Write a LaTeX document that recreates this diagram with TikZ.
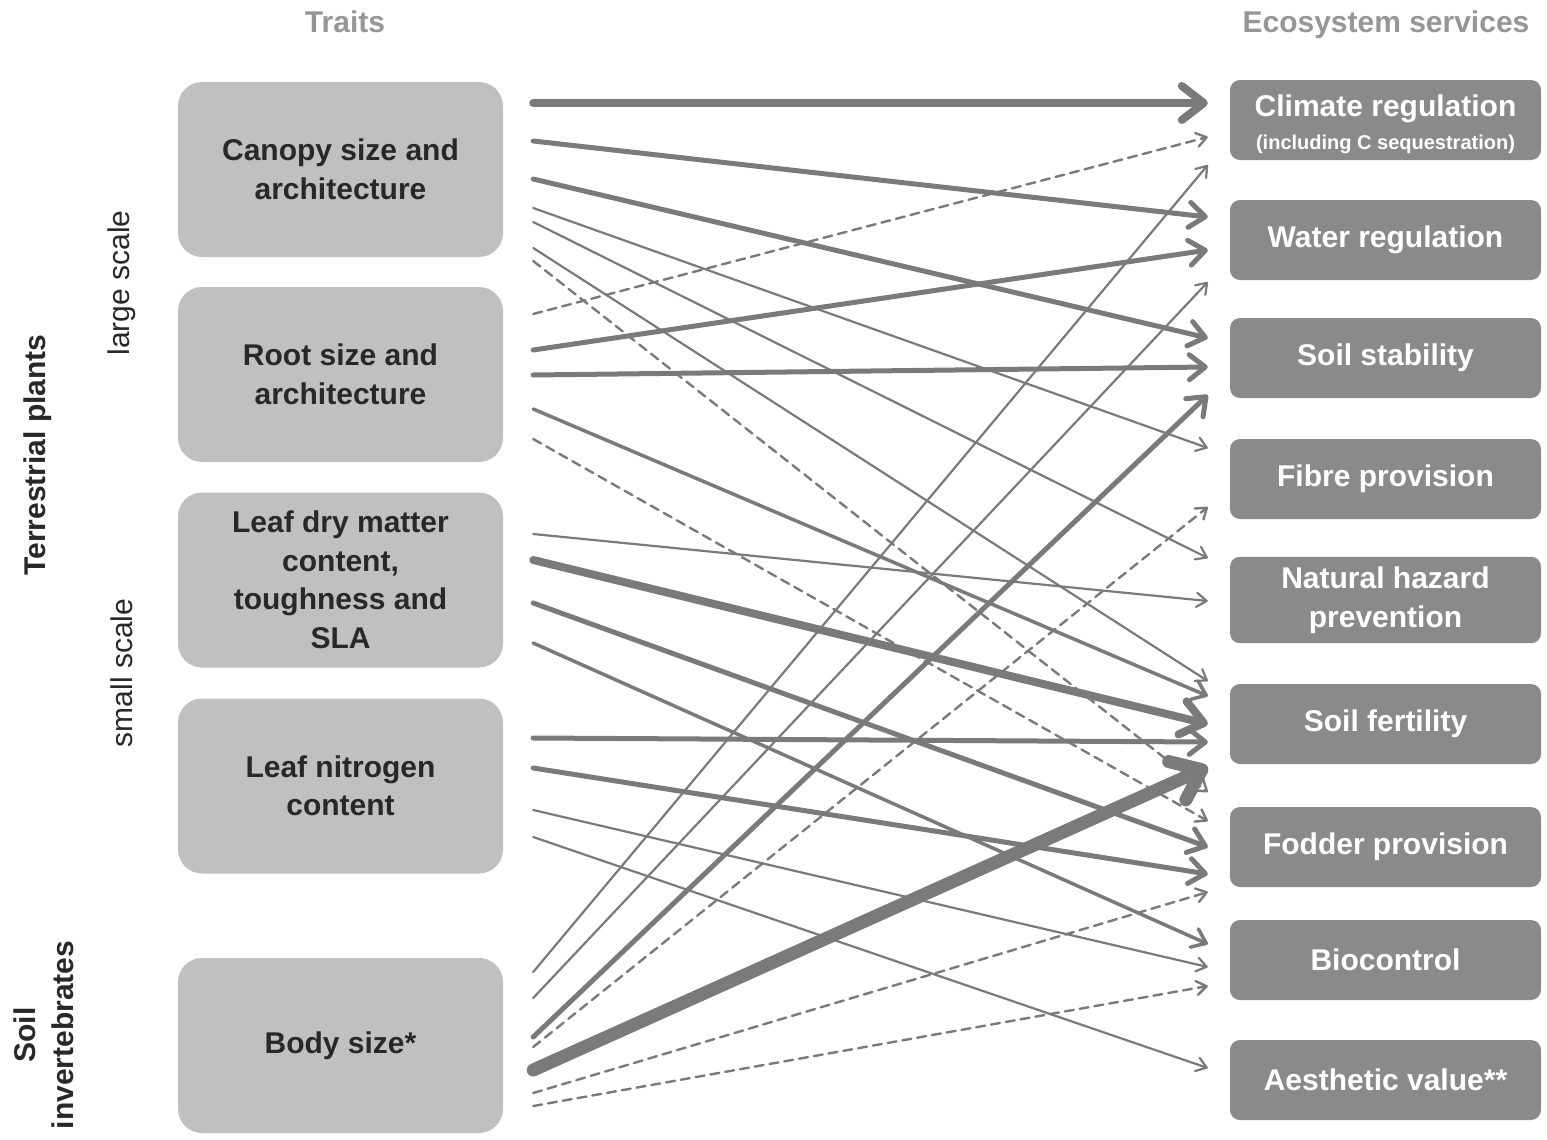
\documentclass[tikz,border=0pt]{standalone}
\usepackage{fontspec}
\setmainfont{Liberation Sans}
\usetikzlibrary{arrows.meta}
\definecolor{traitgray}{RGB}{192,192,192}
\definecolor{servicegray}{RGB}{138,138,138}
\definecolor{linkgray}{RGB}{122,122,122}
\definecolor{headgray}{RGB}{150,150,150}
\definecolor{labelgray}{RGB}{40,40,40}

\begin{document}
\begin{tikzpicture}[x=1pt,y=-1pt,
  trait/.style={fill=traitgray,rounded corners=24pt,minimum width=325pt,minimum height=175pt,
    align=center,font=\bfseries,text=labelgray},
  service/.style={fill=servicegray,rounded corners=10pt,minimum width=311pt,minimum height=80pt,
    align=center,font=\bfseries,text=white},
  heading/.style={anchor=base,font=\bfseries,text=headgray},
  group/.style={rotate=90,align=center,text=labelgray},
  link/.style={draw=linkgray,line cap=round},
  weak/.style={link,line width=2.2pt,-{Straight Barb[round,length=10pt,width=14pt]}},
  medium/.style={link,line width=3.5pt,-{Straight Barb[round,length=13pt,width=20pt]}},
  strong/.style={link,line width=5pt,-{Straight Barb[round,length=16pt,width=25pt]}},
  heavy/.style={link,line width=8pt,-{Straight Barb[round,length=22pt,width=34pt]}},
  massive/.style={link,line width=13pt,-{Straight Barb[round,length=27pt,width=42pt]}},
  hint/.style={weak,line width=2.4pt,dash pattern=on 9pt off 6pt}]
\fontsize{30}{38.5}\selectfont
\useasboundingbox (0,0) rectangle (1547,1140);

% headings and groups
\node[heading] (traits) at (345,33) {Traits};
\node[heading] (services) at (1386,33) {Ecosystem services};
\node[group,font=\bfseries] (plants) at (38,455) {Terrestrial plants};
\node[group] (large) at (122,283) {large scale};
\node[group] (small) at (122,673) {small scale};
\node[group,font=\bfseries] (inverts) at (44,1035) {Soil\\invertebrates};

% traits
\node[trait] (canopy) at (340.5,169.5) {Canopy size and\\architecture};
\node[trait] (root) at (340.5,374.5) {Root size and\\architecture};
\node[trait] (ldmc) at (340.5,580) {Leaf dry matter\\content,\\toughness and\\SLA};
\node[trait] (leafn) at (340.5,786) {Leaf nitrogen\\content};
\node[trait] (body) at (340.5,1045.5) {Body size*};

% services
\node[service,inner ysep=0pt] (climate) at (1385.5,120) {\rule{0pt}{30pt}Climate regulation\\[-5pt]{\fontsize{20}{24}\selectfont(including C sequestration)}};
\node[service] (water) at (1385.5,240) {Water regulation};
\node[service] (stability) at (1385.5,358) {Soil stability};
\node[service] (fibre) at (1385.5,479) {Fibre provision};
\node[service] (hazard) at (1385.5,600) {Natural hazard\\prevention};
\node[service] (fertility) at (1385.5,724) {Soil fertility};
\node[service] (fodder) at (1385.5,847) {Fodder provision};
\node[service] (biocontrol) at (1385.5,960) {Biocontrol};
\node[service] (aesthetic) at (1385.5,1080) {Aesthetic value**};

% canopy
\draw[heavy] ([shift={(30,-66.5)}]canopy.east) -- ([shift={(-22,-17)}]climate.west);
\draw[strong] ([shift={(30,-28.5)}]canopy.east) -- ([shift={(-22,-23)}]water.west);
\draw[strong] ([shift={(30,9.5)}]canopy.east) -- ([shift={(-22,-20)}]stability.west);
\draw[weak] ([shift={(30,38.5)}]canopy.east) -- ([shift={(-22,-31)}]fibre.west);
\draw[weak] ([shift={(30,52.5)}]canopy.east) -- ([shift={(-22,-42)}]hazard.west);
\draw[weak] ([shift={(30,78.5)}]canopy.east) -- ([shift={(-22,-43)}]fertility.west);
\draw[hint] ([shift={(30,91.5)}]canopy.east) -- ([shift={(-22,-55)}]fodder.west);
% root
\draw[hint] ([shift={(30,-60.5)}]root.east) -- ([shift={(-22,17)}]climate.west);
\draw[strong] ([shift={(30,-24.5)}]root.east) -- ([shift={(-22,10)}]water.west);
\draw[strong] ([shift={(30,0.5)}]root.east) -- ([shift={(-22,9)}]stability.west);
\draw[medium] ([shift={(30,34.5)}]root.east) -- ([shift={(-22,-28)}]fertility.west);
\draw[hint] ([shift={(30,64.5)}]root.east) -- ([shift={(-22,-26)}]fodder.west);
% leaf dry matter
\draw[weak] ([shift={(30,-46)}]ldmc.east) -- ([shift={(-22,1)}]hazard.west);
\draw[heavy] ([shift={(30,-20)}]ldmc.east) -- ([shift={(-22,0)}]fertility.west);
\draw[strong] ([shift={(30,23)}]ldmc.east) -- ([shift={(-22,0)}]fodder.west);
\draw[medium] ([shift={(30,63)}]ldmc.east) -- ([shift={(-22,-16)}]biocontrol.west);
% leaf nitrogen
\draw[strong] ([shift={(30,-48)}]leafn.east) -- ([shift={(-22,18)}]fertility.west);
\draw[strong] ([shift={(30,-18)}]leafn.east) -- ([shift={(-22,27)}]fodder.west);
\draw[weak] ([shift={(30,24)}]leafn.east) -- ([shift={(-22,7)}]biocontrol.west);
\draw[weak] ([shift={(30,51)}]leafn.east) -- ([shift={(-22,-12)}]aesthetic.west);
% body size
\draw[weak] ([shift={(30,-73.5)}]body.east) -- ([shift={(-22,45)}]climate.west);
\draw[weak] ([shift={(30,-47.5)}]body.east) -- ([shift={(-22,42)}]water.west);
\draw[strong] ([shift={(30,-8.5)}]body.east) -- ([shift={(-22,37)}]stability.west);
\draw[hint] ([shift={(30,1.5)}]body.east) -- ([shift={(-22,28)}]fibre.west);
\draw[massive] ([shift={(30,24.5)}]body.east) -- ([shift={(-22,43)}]fertility.west);
\draw[hint] ([shift={(30,47.5)}]body.east) -- ([shift={(-22,45)}]fodder.west);
\draw[hint] ([shift={(30,60.5)}]body.east) -- ([shift={(-22,26)}]biocontrol.west);
\end{tikzpicture}
\end{document}
